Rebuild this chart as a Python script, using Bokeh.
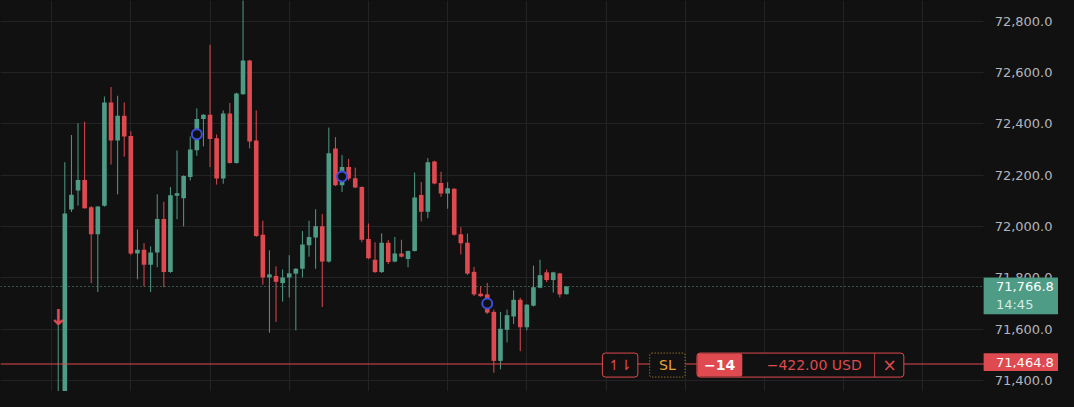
from bokeh.core.properties import value
from bokeh.embed import file_html
from bokeh.models import (BoxAnnotation, ColumnDataSource, FixedTicker,
                          GlobalInlineStyleSheet, Label, NumeralTickFormatter, Span)
from bokeh.plotting import figure
from bokeh.resources import INLINE

# candles (bar index, OHLC)
idx = list(range(-1, 77))
opens = [71150, 71310, 72067, 72141, 72182, 72076, 71970, 72081, 72484, 72336,
         72432, 72353, 71895, 71910, 71852, 71899, 72030, 71823, 72120, 72111,
         72193, 72298, 72419, 72436, 72344, 72188, 72441, 72248, 72516, 72647,
         72336, 71968, 71802, 71808, 71780, 71802, 71817, 71836, 71928, 71958,
         72002, 71864, 72305, 72161, 72232, 72189, 72155, 71952, 71871, 71823,
         71937, 71864, 71895, 71874, 71905, 72123, 72058, 72254, 72170, 72129,
         72148, 71970, 71937, 71824, 71739, 71736, 71668, 71477, 71598, 71650,
         71715, 71608, 71692, 71762, 71822, 71792, 71818, 71737]
highs = [71627, 72251, 72357, 72403, 72409, 72080, 72080, 72507, 72544, 72510,
         72484, 72372, 71989, 71936, 71923, 72126, 72097, 72154, 72297, 72200,
         72351, 72461, 72438, 72709, 72359, 72453, 72482, 72522, 72900, 72650,
         72453, 72023, 71908, 71845, 71833, 71889, 71838, 71983, 72023, 72068,
         72049, 72386, 72349, 72279, 72264, 72230, 72157, 72012, 71939, 71974,
         71948, 71960, 71949, 71907, 72211, 72174, 72267, 72257, 72214, 72173,
         72150, 71998, 71973, 71843, 71768, 71781, 71677, 71668, 71677, 71752,
         71723, 71698, 71848, 71871, 71833, 71824, 71820, 71768]
lows = [71100, 71290, 72057, 72082, 72070, 71780, 71745, 72078, 72242, 72126,
        72273, 71889, 71795, 71767, 71745, 71842, 71764, 71820, 72029, 72001,
        72180, 72276, 72313, 72232, 72164, 72167, 72246, 72246, 72514, 72305,
        71960, 71774, 71587, 71629, 71708, 71724, 71596, 71802, 71883, 71836,
        71687, 71860, 72158, 72135, 72180, 72150, 71939, 71873, 71820, 71820,
        71854, 71861, 71880, 71842, 71903, 72020, 72033, 72165, 72116, 72070,
        71965, 71892, 71812, 71730, 71727, 71660, 71431, 71444, 71549, 71621,
        71515, 71596, 71689, 71760, 71784, 71743, 71724, 71735]
closes = [71310, 72051, 72124, 72182, 72072, 71970, 72079, 72484, 72336, 72432,
          72351, 71895, 71910, 71852, 71899, 72030, 71823, 72122, 72130, 72197,
          72301, 72419, 72436, 72342, 72188, 72441, 72248, 72519, 72647, 72332,
          71964, 71802, 71814, 71785, 71802, 71818, 71836, 71930, 71960, 72002,
          71864, 72286, 72161, 72232, 72188, 72153, 71949, 71877, 71823, 71937,
          71862, 71895, 71883, 71905, 72114, 72058, 72251, 72168, 72129, 72150,
          71968, 71935, 71817, 71736, 71729, 71665, 71477, 71602, 71655, 71715,
          71608, 71696, 71764, 71811, 71792, 71822, 71736, 71766.8]

# blue circle markers on bars
marker_idx = [20, 42, 64]
marker_price = [72360, 72195, 71701]

# sell arrow (tip price)
sell_idx = [-1]
sell_price = [71646]

price_ticks = [71400, 71600, 71800, 72000, 72200, 72400, 72600, 72800]
last_price = 71766.8
last_price_text = "71,766.8"
countdown = "14:45"
sl_price = 71464.8
sl_price_text = "71,464.8"
sl_qty = "\u221214"
sl_pnl = "\u2212422.00 USD"

BG = "#111111"
GREEN = "#4f9c86"
RED = "#de4a4f"
W, H = 1058, 391
FONT = "DejaVu Sans"

# bar i sits at 65.3 + 6.7*i px of the 1074 px wide reference; price scale starts at 998 px
X_LEFT = -65.3 / 6.7
X_RIGHT = (1074 - 65.3) / 6.7
X_SCALE = (998 - 65.3) / 6.7


def sx(r):
    # reference pixel x -> screen x inside the frame
    return r * W / 1074


def sy(r):
    # reference pixel y -> screen y (from bottom)
    return (407 - r) * H / 407


colors = [GREEN if c >= o else RED for o, c in zip(opens, closes)]
src = ColumnDataSource(dict(
    x=idx, high=highs, low=lows, color=colors,
    top=[max(o, c) for o, c in zip(opens, closes)],
    bottom=[min(o, c) for o, c in zip(opens, closes)],
))

p = figure(width=W, height=H, x_range=(X_LEFT, X_RIGHT), y_range=(71357.7, 72881.2),
           y_axis_location="right", output_backend="svg", toolbar_location=None,
           background_fill_color=BG, border_fill_color=BG, outline_line_color=None,
           min_border=0)
p.stylesheets = [GlobalInlineStyleSheet(css="html, body { background: #111111; }")]

p.xaxis.visible = False
p.xgrid.ticker = FixedTicker(ticks=list(range(-2, 140, 12)))
p.grid.grid_line_color = "#232323"

# price scale drawn at the chart's right edge, inside the frame
p.yaxis.fixed_location = X_SCALE
p.yaxis.ticker = FixedTicker(ticks=price_ticks)
p.yaxis.formatter = NumeralTickFormatter(format="0,0.0")
p.yaxis.axis_line_color = None
p.yaxis.major_tick_line_color = None
p.yaxis.minor_tick_line_color = None
p.yaxis.major_tick_out = 0
p.yaxis.major_tick_in = 0
p.yaxis.major_label_standoff = 11
p.yaxis.major_label_text_color = "#b2b5be"
p.yaxis.major_label_text_font = FONT
p.yaxis.major_label_text_font_size = "13px"

# blank out grid under the price scale
p.add_layout(BoxAnnotation(left=X_SCALE, fill_color=BG, fill_alpha=1.0,
                           line_alpha=0, level="underlay"))

p.segment(x0="x", y0="high", x1="x", y1="low", color="color", line_width=1, source=src)
p.vbar(x="x", width=0.7, top="top", bottom="bottom", fill_color="color",
       line_color=None, source=src)

p.scatter(marker_idx, marker_price, marker="circle", size=10, fill_color=BG,
          line_color="#3a4fe0", line_width=2)
p.text(sell_idx, sell_price, text=["\u2193"], text_align="center",
       text_baseline="alphabetic", text_color=RED, text_font_size="22px",
       text_font=value(FONT), text_font_style="bold")

p.add_layout(Span(location=last_price, dimension="width", line_color="#5f9e8c",
                  line_dash="1 3", line_width=1))
p.add_layout(Span(location=sl_price, dimension="width", line_color=RED, line_width=1))


def box(left, right, top, bottom, fill, line=None, dash="solid", radius=0):
    p.add_layout(BoxAnnotation(left=left, right=right, top=top, bottom=bottom,
                               left_units="screen", right_units="screen",
                               top_units="screen", bottom_units="screen",
                               fill_color=fill, fill_alpha=1.0,
                               line_color=line, line_alpha=1.0 if line else 0,
                               line_dash=dash, line_width=1, border_radius=radius))


def label(x, y, text, color, size="14px", align="center", style="normal"):
    p.add_layout(Label(x=x, y=y, x_units="screen", y_units="screen", text=text,
                       text_color=color, text_font=FONT, text_font_size=size,
                       text_align=align, text_baseline="middle",
                       text_font_style=style))


# order line widgets
box(sx(611), sx(647), sy(367), sy(392), BG, RED, radius=3)
label(sx(629), sy(379.5), "\u21bf\u21c2", RED, size="14px")
box(sx(659), sx(695), sy(367), sy(392), BG, "#c8962e", dash="1 2", radius=2)
label(sx(677), sy(379.5), "SL", "#e8a33a", size="14px")
box(sx(707), sx(917), sy(367), sy(392), BG, RED, radius=3)
box(sx(707.5), sx(753), sy(367.5), sy(391.5), RED, radius=2)
label(sx(730), sy(379.5), sl_qty, "#ffffff", size="14px", style="bold")
label(sx(826), sy(379.5), sl_pnl, RED, size="14px")
box(sx(887), sx(887.8), sy(367), sy(392), RED)
label(sx(902.5), sy(379.5), "\u00d7", RED, size="17px")

# price scale tags
box(sx(998), sx(1074), sy(288.3), sy(326.7), GREEN)
label(sx(1010.5), sy(297.5), last_price_text, "#ffffff", size="13px", align="left")
label(sx(1010.5), sy(316.5), countdown, "#d3ebe3", size="13px", align="left")
box(sx(998), sx(1074), sy(367.3), sy(385.7), RED)
label(sx(1010.5), sy(376.5), sl_price_text, "#ffffff", size="13px", align="left")

open("out.html", "w").write(file_html(p, INLINE))
